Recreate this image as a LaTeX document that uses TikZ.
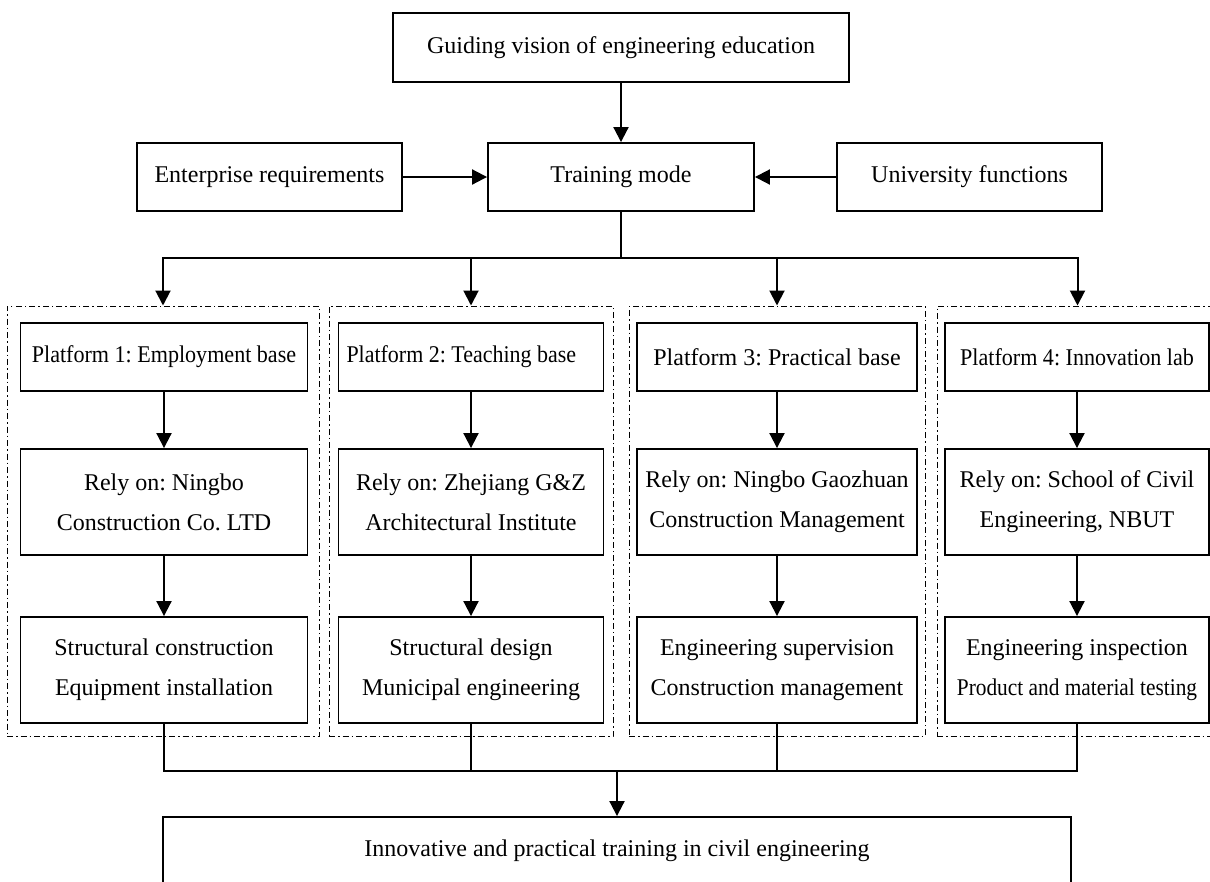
\documentclass[tikz,border=0pt]{standalone}
\usepackage{fontspec}
\setmainfont{Liberation Serif}
\usetikzlibrary{arrows.meta}
\tikzset{
  box/.style={draw, line width=1.9pt, rectangle, inner sep=0pt, align=center,
    font=\fontsize{24}{40}\selectfont\frenchspacing},
  grp/.style={draw, line width=1pt, rectangle, inner sep=0pt,
    dash pattern=on 6pt off 3pt on 1.5pt off 3pt},
  arr/.style={line width=2pt, -{Triangle[length=15pt,width=15pt]}},
  ln/.style={line width=2pt},
}
\newcommand{\cond}[2]{\scalebox{#1}[1]{#2}}
\begin{document}
\begin{tikzpicture}[x=1pt,y=-1pt]
\useasboundingbox (0,0) rectangle (1210,881);
\clip (0,0) rectangle (1210,881);
% top
\node[box, minimum width=456pt, minimum height=69pt] (vision) at (621,47.5) {Guiding vision of engineering education};
\node[box, minimum width=266pt, minimum height=68pt] (train) at (621,177) {Training mode};
\node[box, minimum width=265pt, minimum height=68pt] (ent) at (269.5,177) {Enterprise requirements};
\node[box, minimum width=265pt, minimum height=68pt] (uni) at (969.5,177) {University functions};
% groups
\node[grp, minimum width=312pt, minimum height=430pt] (g1) at (163,521) {};
\node[grp, minimum width=284pt, minimum height=430pt] (g2) at (471,521) {};
\node[grp, minimum width=296pt, minimum height=430pt] (g3) at (777,521) {};
\node[grp, minimum width=281pt, minimum height=430pt] (g4) at (1077.5,521) {};
% platforms
\node[box, minimum width=287pt, minimum height=68pt] (p1) at (164,357) {\cond{0.92}{Platform 1: Employment base}};
\node[box, minimum width=265pt, minimum height=68pt] (p2) at (471,357) {\makebox[249pt][l]{\cond{0.915}{Platform 2: Teaching base}}};
\node[box, minimum width=280pt, minimum height=68pt] (p3) at (777,357) {Platform 3: Practical base};
\node[box, minimum width=264pt, minimum height=68pt] (p4) at (1077,357) {\cond{0.92}{Platform 4: Innovation lab}};
% rely
\node[box, minimum width=287pt, minimum height=106pt] (r1) at (164,502) {Rely on: Ningbo\\Construction Co. LTD};
\node[box, minimum width=265pt, minimum height=106pt] (r2) at (471,502) {Rely on: Zhejiang G\&Z\\Architectural Institute};
\node[box, minimum width=280pt, minimum height=106pt] (r3) at (777,502) {Rely on: Ningbo Gaozhuan\\Construction Management};
\node[box, minimum width=264pt, minimum height=106pt] (r4) at (1077,502) {Rely on: School of Civil\\Engineering, NBUT};
% fields
\node[box, minimum width=287pt, minimum height=106pt] (s1) at (164,670) {Structural construction\\Equipment installation};
\node[box, minimum width=265pt, minimum height=106pt] (s2) at (471,670) {Structural design\\Municipal engineering};
\node[box, minimum width=280pt, minimum height=106pt] (s3) at (777,670) {Engineering supervision\\Construction management};
\node[box, minimum width=264pt, minimum height=106pt] (s4) at (1077,670) {Engineering inspection\\\cond{0.89}{Product and material testing}};
% final
\node[box, minimum width=908pt, minimum height=68pt] (final) at (617,851) {Innovative and practical training in civil engineering};
% connectors
\draw[arr] (vision.south) -- (train.north);
\draw[arr] (ent.east) -- (train.west);
\draw[arr] (uni.west) -- (train.east);
\coordinate (split) at (621,258);
\draw[ln] (train.south) -- (split);
\draw[arr] (split) -| (g1.north);
\draw[arr] (split) -| (g2.north);
\draw[arr] (split) -| (g3.north);
\draw[arr] (split) -| (g4.north);
\foreach \i in {1,2,3,4}{
  \draw[arr] (p\i.south) -- (r\i.north);
  \draw[arr] (r\i.south) -- (s\i.north);
}
\coordinate (merge) at (617,771);
\draw[ln] (s1.south) |- (merge);
\draw[ln] (s2.south) |- (merge);
\draw[ln] (s3.south) |- (merge);
\draw[ln] (s4.south) |- (merge);
\draw[arr] (merge) -- (final.north);
\end{tikzpicture}
\end{document}
